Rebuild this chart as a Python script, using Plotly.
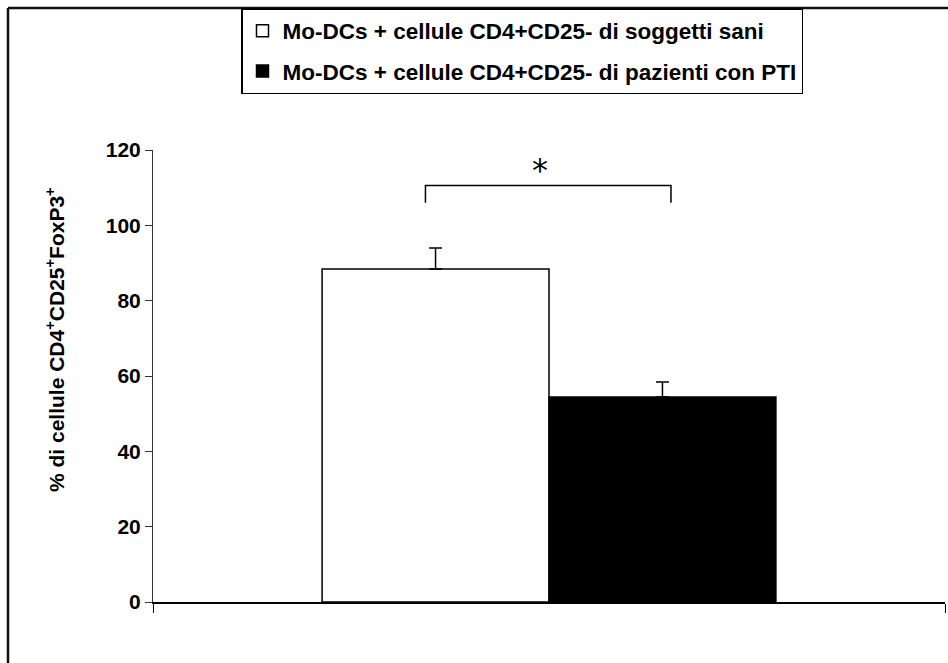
import plotly.graph_objects as go

# ---- data ----
categories = [0]
series_names = [
    "Mo-DCs + cellule CD4+CD25- di soggetti sani",
    "Mo-DCs + cellule CD4+CD25- di pazienti con PTI",
]
values_sani = [88.4]
errors_sani = [5.6]
values_pti = [54.4]
errors_pti = [4.0]
y_tickvals = [0, 20, 40, 60, 80, 100, 120]
y_title = "% di cellule CD4<sup>+</sup>CD25<sup>+</sup>FoxP3<sup>+</sup>"
significance_label = "*"

FONT = "Liberation Sans"

fig = go.Figure()
fig.add_trace(go.Bar(
    x=categories, y=values_sani, name=series_names[0], legendgroup="a",
    marker=dict(color="white", line=dict(color="black", width=1.5)),
    error_y=dict(type="data", array=errors_sani, arrayminus=[0] * len(errors_sani),
                 symmetric=False, color="black", thickness=1.5, width=6.5),
))
fig.add_trace(go.Bar(
    x=categories, y=values_pti, name=series_names[1], legendgroup="b",
    marker=dict(color="black", line=dict(color="black", width=1.5)),
    error_y=dict(type="data", array=errors_pti, arrayminus=[0] * len(errors_pti),
                 symmetric=False, color="black", thickness=1.5, width=6.5),
))

# significance bracket
bx0, bx1, by0, by1 = -0.156, 0.154, 106.0, 110.6
fig.add_shape(type="path", xref="x", yref="y",
              path=f"M {bx0},{by0} L {bx0},{by1} L {bx1},{by1} L {bx1},{by0}",
              line=dict(color="black", width=1.5))
fig.add_annotation(x=(bx0 + bx1) / 2, y=by1, xref="x", yref="y", text=significance_label,
                   showarrow=False, yanchor="bottom", xshift=-8, yshift=-6,
                   font=dict(family="DejaVu Sans", size=32, color="black"))

# y-axis title (placed as in the reference, slightly above plot centre)
fig.add_annotation(x=(55 - 153) / 792, y=(602 - 340) / 452, xref="paper", yref="paper",
                   text=y_title, textangle=-90, showarrow=False,
                   xanchor="center", yanchor="middle",
                   font=dict(family=FONT, size=21, weight="bold", color="black"))

# outer frame (top and left edges)
fx = (8 - 153) / 792
fy = (602 - 8) / 452
fig.add_shape(type="line", xref="paper", yref="paper", x0=fx, x1=1.1, y0=fy, y1=fy,
              line=dict(color="#111", width=2.5))
fig.add_shape(type="line", xref="paper", yref="paper", x0=fx, x1=fx, y0=-0.2, y1=fy,
              line=dict(color="#111", width=2.5))

fig.update_layout(
    width=948, height=663,
    margin=dict(l=153, r=3, t=150, b=61),
    paper_bgcolor="white", plot_bgcolor="white",
    barmode="group", bargap=0.427, bargroupgap=0,
    font=dict(family=FONT, color="black"),
    showlegend=True,
    legend=dict(
        x=(241 - 153) / 792, y=fy, xanchor="left", yanchor="top",
        bordercolor="black", borderwidth=1.5, bgcolor="white",
        font=dict(family=FONT, size=22.5, weight="bold", color="black"),
        tracegroupgap=8, itemwidth=30,
    ),
    xaxis=dict(range=[-0.5, 0.5], showline=True, linecolor="black", linewidth=1.5,
               tickvals=[-0.5, 0.5], ticks="outside", ticklen=9, tickcolor="black",
               showticklabels=False, showgrid=False, zeroline=False),
    yaxis=dict(range=[0, 120], tickvals=y_tickvals, showline=True, linecolor="#333",
               linewidth=1, ticks="outside", ticklen=7, tickcolor="#333",
               tickfont=dict(family=FONT, size=21, weight="bold", color="black"),
               showgrid=False, zeroline=False),
)

fig.write_html("out.html")
